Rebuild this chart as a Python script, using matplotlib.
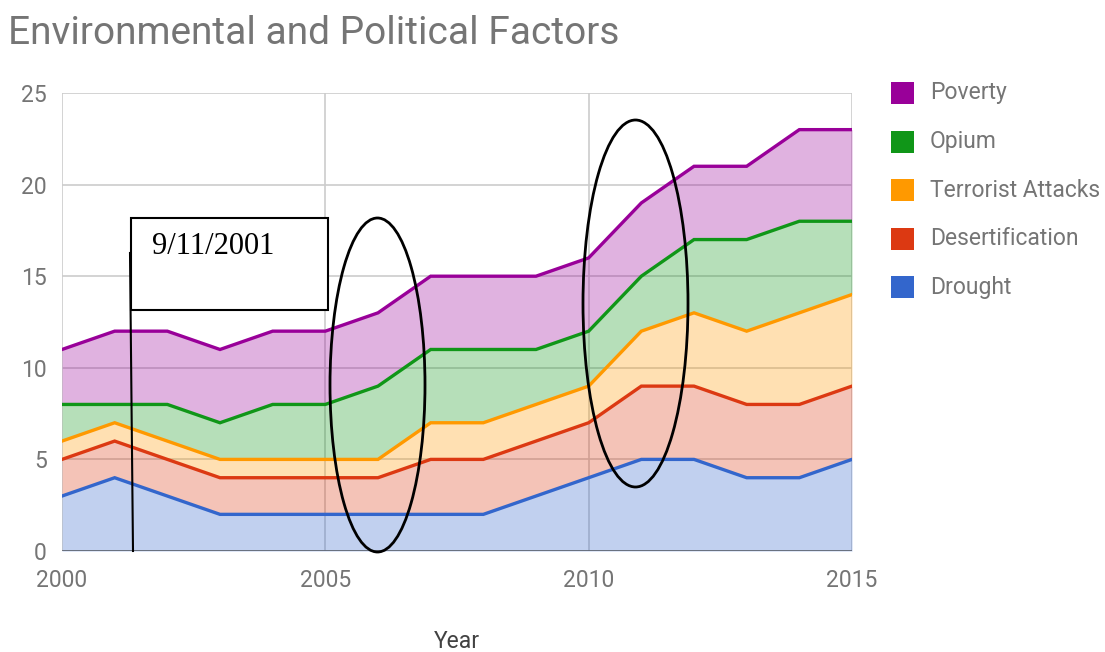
import matplotlib
matplotlib.use("Agg")
from matplotlib import pyplot as plt
from matplotlib.patches import Ellipse, Rectangle
import numpy as np

years = list(range(2000, 2016))
drought = [3, 4, 3, 2, 2, 2, 2, 2, 2, 3, 4, 5, 5, 4, 4, 5]
desertification = [2, 2, 2, 2, 2, 2, 2, 3, 3, 3, 3, 4, 4, 4, 4, 4]
terrorist = [1, 1, 1, 1, 1, 1, 1, 2, 2, 2, 2, 3, 4, 4, 5, 5]
opium = [2, 1, 2, 2, 3, 3, 4, 4, 4, 3, 3, 3, 4, 5, 5, 4]
poverty = [3, 4, 4, 4, 4, 4, 4, 4, 4, 4, 4, 4, 4, 4, 5, 5]

names = ["Drought", "Desertification", "Terrorist Attacks", "Opium", "Poverty"]
colors = ["#3366cc", "#dc3912", "#ff9900", "#109618", "#990099"]
series = [drought, desertification, terrorist, opium, poverty]

plt.rcParams['font.family'] = ['Roboto', 'DejaVu Sans']
W, H = 1105, 652
fig = plt.figure(figsize=(W / 100, H / 100), dpi=100)
ax = fig.add_axes([62 / W, (H - 551) / H, (852 - 62) / W, (551 - 93) / H])

# stacked areas
bottom = np.zeros(len(years))
for vals, c in zip(series, colors):
    top = bottom + np.array(vals)
    ax.fill_between(years, bottom, top, color=c, alpha=0.3, lw=0)
    ax.plot(years, top, color=c, lw=2.4, solid_joinstyle='miter')
    bottom = top

ax.set_xlim(2000, 2015)
ax.set_ylim(0, 25)
ax.set_xticks([2000, 2005, 2010, 2015])
ax.set_yticks([0, 5, 10, 15, 20, 25])
ax.grid(True, color="#cccccc", lw=1.2)
ax.set_axisbelow(True)
for s in ax.spines.values():
    s.set_visible(False)
ax.axhline(0, color="#333333", lw=1.2, alpha=0.6)
ax.tick_params(length=0, labelsize=16.5, colors="#757575")
ax.tick_params(axis='x', pad=13)
ax.tick_params(axis='y', pad=11)

fig.text(457 / W, 1 - 641 / H, "Year", fontsize=16.5, color="#424242",
         va='center', ha='center')
fig.text(8 / W, 1 - 33 / H, "Environmental and Political Factors", fontsize=28,
         color="#757575", va='center', ha='left')

# legend drawn by hand, top entry first
for i, (name, c) in enumerate(zip(names[::-1], colors[::-1])):
    yc = 93 + i * 48.6
    fig.patches.append(Rectangle((891 / W, 1 - (yc + 11) / H), 23 / W, 22 / H,
                                 transform=fig.transFigure, color=c, lw=0))
    fig.text(930 / W, 1 - yc / H, name, fontsize=16.5, color="#757575",
             va='center', ha='left')

# hand drawn annotations
fig.patches.append(Ellipse((377.5 / W, 1 - 385 / H), 95 / W, 334 / H,
                           transform=fig.transFigure, fill=False, ec='black', lw=2))
fig.patches.append(Ellipse((635.5 / W, 1 - 303.5 / H), 105 / W, 367 / H,
                           transform=fig.transFigure, fill=False, ec='black', lw=2))
fig.lines.append(plt.Line2D([130 / W, 133 / W], [1 - 253 / H, 1 - 551 / H],
                            transform=fig.transFigure, color='black', lw=1.5))
fig.patches.append(Rectangle((131 / W, 1 - 310 / H), 197 / W, 92 / H,
                             transform=fig.transFigure, fc='white', ec='black', lw=1.5))
fig.text(152 / W, 1 - 247 / H, "9/11/2001", fontsize=22, family='Liberation Serif',
         va='center', ha='left', color='black')

fig.savefig("out.png", dpi=100)
